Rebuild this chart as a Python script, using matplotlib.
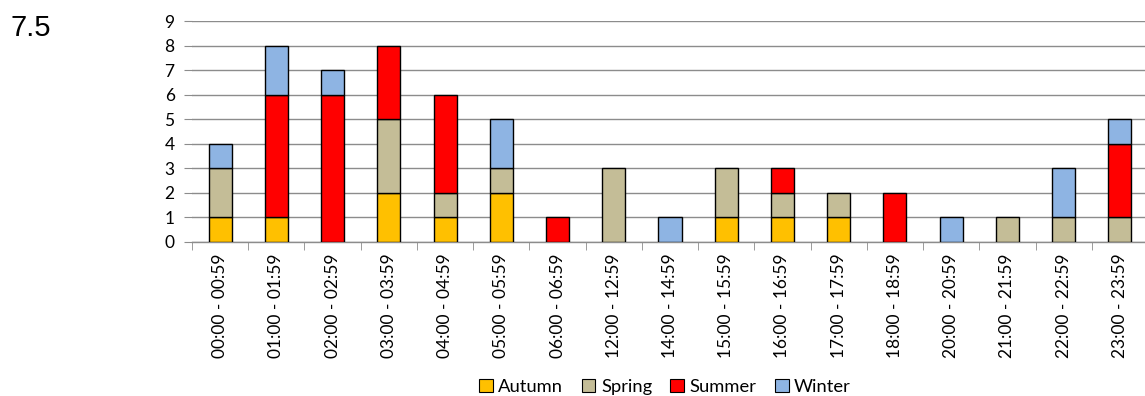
import matplotlib
matplotlib.use("Agg")
import matplotlib.pyplot as plt
import numpy as np
from matplotlib.patches import Patch

plt.rcParams['font.family'] = ['Lato', 'DejaVu Sans']

hours = ["00:00 - 00:59", "01:00 - 01:59", "02:00 - 02:59", "03:00 - 03:59",
         "04:00 - 04:59", "05:00 - 05:59", "06:00 - 06:59", "12:00 - 12:59",
         "14:00 - 14:59", "15:00 - 15:59", "16:00 - 16:59", "17:00 - 17:59",
         "18:00 - 18:59", "20:00 - 20:59", "21:00 - 21:59", "22:00 - 22:59",
         "23:00 - 23:59"]
autumn = [1, 1, 0, 2, 1, 2, 0, 0, 0, 1, 1, 1, 0, 0, 0, 0, 0]
spring = [2, 0, 0, 3, 1, 1, 0, 3, 0, 2, 1, 1, 0, 0, 1, 1, 1]
summer = [0, 5, 6, 3, 4, 0, 1, 0, 0, 0, 1, 0, 2, 0, 0, 0, 3]
winter = [1, 2, 1, 0, 0, 2, 0, 0, 1, 0, 0, 0, 0, 1, 0, 2, 1]

series = [("Autumn", autumn, "#FFC000"),
          ("Spring", spring, "#C4BD97"),
          ("Summer", summer, "#FF0000"),
          ("Winter", winter, "#8EB4E3")]

fig = plt.figure(figsize=(11.45, 3.96), dpi=100)
ax = fig.add_axes([192 / 1145, 154 / 396, 956 / 1145, 221 / 396])

x = np.arange(len(hours))
bottom = np.zeros(len(hours))
for name, vals, color in series:
    vals = np.array(vals, dtype=float)
    mask = vals > 0
    ax.bar(x[mask], vals[mask], bottom=bottom[mask], width=0.41, color=color,
           edgecolor="black", linewidth=1.0, zorder=3)
    bottom += vals

ax.set_xlim(-0.5, len(hours) - 0.5)
ax.set_ylim(0, 9)
ax.set_yticks(range(0, 10))
ax.yaxis.grid(True, color="#8c8c8c", linewidth=1.0, zorder=0)
ax.set_axisbelow(True)

for side in ("top", "right", "left"):
    ax.spines[side].set_visible(False)
ax.spines["bottom"].set_color("#8c8c8c")
ax.spines["bottom"].set_linewidth(1.0)

ax.tick_params(axis="y", length=5.5, color="#8c8c8c", labelsize=12.5, pad=7)
ax.set_xticks(x)
ax.set_xticklabels(hours, rotation=90, fontsize=12.5)
ax.tick_params(axis="x", length=0, pad=8)
ax.set_xticks(np.arange(-0.5, len(hours), 1.0), minor=True)
ax.tick_params(axis="x", which="minor", length=5.5, color="#8c8c8c")

handles = [Patch(facecolor=c, edgecolor="black", linewidth=0.8, label=n)
           for n, _, c in series]
fig.legend(handles=handles, loc="center", bbox_to_anchor=(665 / 1145, 1 - 387 / 396),
           ncol=4, frameon=False, fontsize=13.2, handlelength=0.75, handleheight=0.75,
           handletextpad=0.3, columnspacing=1.0, borderpad=0)

fig.text(10 / 1145, 1 - 28 / 396, "7.5", fontsize=21, family="Liberation Sans",
         va="center", ha="left")

fig.savefig("out.png", dpi=100)
